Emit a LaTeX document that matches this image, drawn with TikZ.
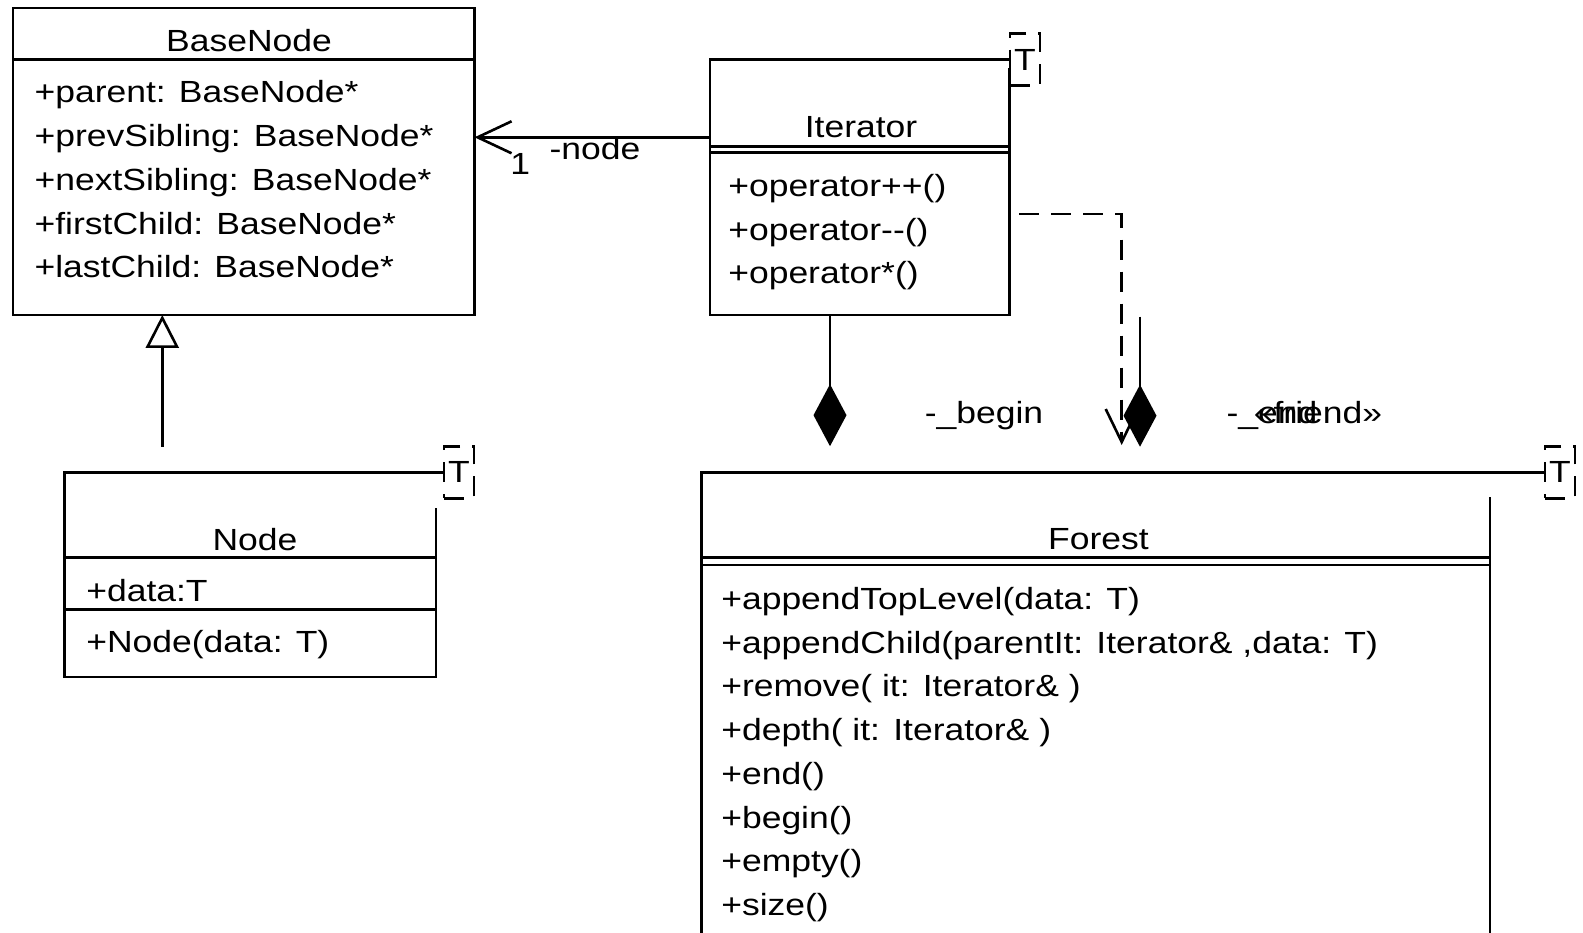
\documentclass[tikz,border=0pt]{standalone}
\usepackage{fontspec}
\setmainfont{Liberation Sans}[FakeStretch=1.16]
\usetikzlibrary{arrows.meta}

\begin{document}
\begin{tikzpicture}[x=1pt, y=-1pt, line width=2.6pt,
    font=\fontsize{30.6pt}{43.7pt}\selectfont,
    classbox/.style={anchor=north west, inner sep=0pt, outer sep=0pt},
    title/.style={anchor=base, inner sep=0pt},
    members/.style={anchor=base west, align=left, inner sep=0pt},
    rolename/.style={anchor=base, inner sep=0pt},
    tparam/.style={draw, fill=white, dash pattern=on 20pt off 12pt, minimum width=30pt, minimum height=52pt, inner sep=0pt},
    assoc/.style={-{Straight Barb[length=34pt, width=32pt]}},
    inherit/.style={-{Triangle[open, length=33pt, width=33pt]}},
    compose/.style={-{Diamond[length=62pt, width=33pt]}},
    friend/.style={dash pattern=on 20pt off 12pt, -{Straight Barb[length=33pt, width=32pt]}}]
    \useasboundingbox (0,0) rectangle (1583,933);

    % template parameters
    \node[tparam] (iterT) at (1025,59.6) {T};
    \node[tparam] (nodeT) at (459,472.3) {T};
    \node[tparam] (forestT) at (1560,472.3) {T};

    % BaseNode (members placed by their last baseline)
    \node[classbox, minimum width=461.5pt, minimum height=307pt] (base) at (13,8) {};
    \draw (base.north west) rectangle (base.south east);
    \draw (13,59.6) -- (474.5,59.6);
    \node[title] (basetitle) at (249,52) {BaseNode};
    \node[members] (baseattrs) at (33.3,277.8) {+parent: BaseNode*\\+prevSibling: BaseNode*\\+nextSibling: BaseNode*\\+firstChild: BaseNode*\\+lastChild: BaseNode*};

    % Iterator
    \node[classbox, minimum width=299.8pt, minimum height=255.4pt] (iter) at (709.8,59.6) {};
    \draw (iter.north east) ++(0,8.4) -- (iter.south east) -- (iter.south west) -- (iter.north west) -- (iterT.west |- iter.north);
    \draw (709.8,146.4) -- (1009.6,146.4) (709.8,152.4) -- (1009.6,152.4);
    \node[title] (itertitle) at (861,137.3) {Iterator};
    \node[members] (itermethods) at (727,284) {+operator++()\\+operator-\kern0pt-()\\+operator*()};

    % Node
    \node[classbox, minimum width=371.4pt, minimum height=204.7pt] (node) at (64.6,472.3) {};
    \draw (node.north east) ++(0,36) -- (node.south east) -- (node.south west) -- (node.north west) -- (nodeT.west |- node.north);
    \draw (64.6,557.7) -- (436,557.7) (64.6,609.3) -- (436,609.3);
    \node[title] (nodetitle) at (255,550) {Node};
    \node[members] (nodeattrs) at (85,601) {+data:T};
    \node[members] (nodemethods) at (85,652.5) {+Node(data: T)};

    % Forest
    \node[classbox, minimum width=788.3pt, minimum height=480pt] (forest) at (701.7,472.3) {};
    \draw (forest.north east) ++(0,25) -- (forest.south east) -- (forest.south west) -- (forest.north west) -- (forestT.west |- forest.north);
    \draw (701.7,557.3) -- (1490,557.3) (701.7,565) -- (1490,565);
    \node[title] (foresttitle) at (1098.5,549) {Forest};
    \node[members] (forestmethods) at (720,915.4) {+appendTopLevel(data: T)\\+appendChild(parentIt: Iterator\& ,data: T)\\+remove( it: Iterator\& )\\+depth( it: Iterator\& )\\+end()\\+begin()\\+empty()\\+size()};

    % relations
    \coordinate (assocrow) at (600,137.3);
    \draw[assoc] (iter.west |- assocrow) -- (base.east |- assocrow);
    \node[rolename] (multnode) at (520.3,175) {1};
    \node[rolename] (rolenode) at (595,160) {-node};

    \coordinate (genstart) at (162.3,446.7);
    \draw[inherit] (genstart) -- (genstart |- base.south);

    \coordinate (beginend) at (830,446.2);
    \draw[compose] (iter.south -| beginend) -- (beginend);
    \node[rolename] (rolebegin) at (984,423) {-\_begin};

    \coordinate (endstart) at (1140,316.7);
    \coordinate (endend) at (1140,446.7);
    \draw[compose] (endstart) -- (endend);
    \node[rolename] (roleend) at (1272,423) {-\_end};

    \coordinate (friendstart) at (1019.3,214);
    \coordinate (friendend) at (1121.7,445);
    \draw[friend] (friendstart) -| (friendend);
    \node[rolename] (stereofriend) at (1318,423) {«friend»};
\end{tikzpicture}
\end{document}
